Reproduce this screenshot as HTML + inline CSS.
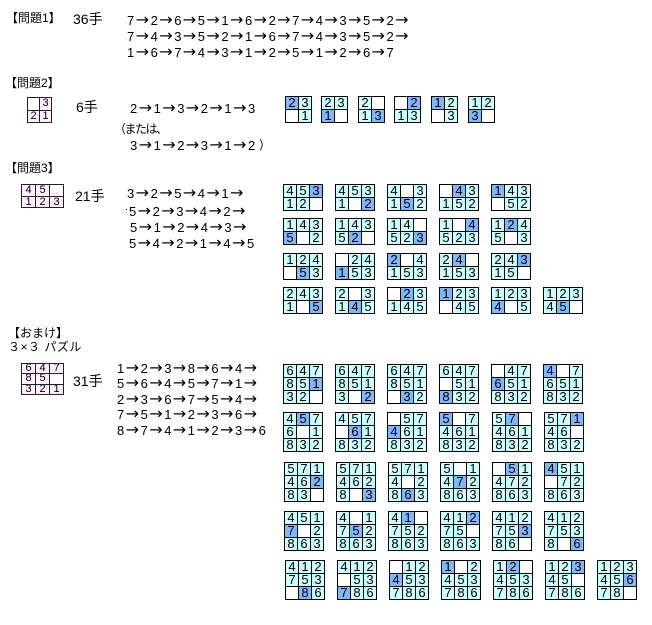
<!DOCTYPE html>
<html><head><meta charset="utf-8">
<style>
html,body{margin:0;padding:0}
body{width:652px;height:625px;position:relative;overflow:hidden;background:#fff;font-family:"Liberation Sans","Noto Sans CJK JP",sans-serif;color:#000}
.t{position:absolute;font-size:12px;line-height:12px;white-space:nowrap}
.k{position:absolute;font-size:14px;line-height:14px;white-space:nowrap}
.q{position:absolute;white-space:nowrap;font-size:13px;line-height:15px;height:15px}
.q i{display:inline-block;width:7px;font-style:normal}
.q b{display:inline-block;width:16.6px;font-weight:normal;font-family:"DejaVu Sans",sans-serif;font-size:16px;line-height:15px;text-align:center}
.g{position:absolute;display:grid;gap:1px;padding:1px;background:#000;box-sizing:border-box}
.g i,.g b,.g u{display:block;font-style:normal;font-weight:normal;text-decoration:none;font-size:13px;line-height:12px;text-align:center;background:#ccffff;overflow:hidden}
.g b{background:#80b8ff}
.g u{background:#fff}
.a{grid-template-columns:repeat(2,12px);grid-template-rows:repeat(2,12px);width:27px;height:27px}
.c{grid-template-columns:repeat(3,12px);grid-template-rows:repeat(2,12px);width:40px;height:27px}
.d{grid-template-columns:repeat(3,12px);grid-template-rows:repeat(3,12px);width:40px;height:40px}
.g.p{background:#222}
.g.p i{background:#ffeeff;font-size:11px}
.p2{grid-template-columns:repeat(2,11px);grid-template-rows:repeat(2,11.5px);width:25px;height:26px}
.p2 i,.p2 u{line-height:11.5px !important}
.p3{grid-template-columns:repeat(3,13px);grid-template-rows:repeat(2,10.5px);width:43px;height:24px}
.p3 i,.p3 u{line-height:10.5px !important}
.p9{grid-template-columns:repeat(3,13px);grid-template-rows:repeat(3,9.4px);width:43px;height:32px}
.p9 i,.p9 u{line-height:9.4px !important}
.kn{letter-spacing:-1.5px}
</style></head><body>

<!-- Problem 1 -->
<div class="t" style="left:6px;top:12px">【問題1】</div>
<div class="k" style="left:73px;top:12px">36手</div>
<div class="q" style="left:127px;top:12px"><i>7</i><b>→</b><i>2</i><b>→</b><i>6</i><b>→</b><i>5</i><b>→</b><i>1</i><b>→</b><i>6</i><b>→</b><i>2</i><b>→</b><i>7</i><b>→</b><i>4</i><b>→</b><i>3</i><b>→</b><i>5</i><b>→</b><i>2</i><b>→</b></div>
<div class="q" style="left:127px;top:28px"><i>7</i><b>→</b><i>4</i><b>→</b><i>3</i><b>→</b><i>5</i><b>→</b><i>2</i><b>→</b><i>1</i><b>→</b><i>6</i><b>→</b><i>7</i><b>→</b><i>4</i><b>→</b><i>3</i><b>→</b><i>5</i><b>→</b><i>2</i><b>→</b></div>
<div class="q" style="left:127px;top:44px"><i>1</i><b>→</b><i>6</i><b>→</b><i>7</i><b>→</b><i>4</i><b>→</b><i>3</i><b>→</b><i>1</i><b>→</b><i>2</i><b>→</b><i>5</i><b>→</b><i>1</i><b>→</b><i>2</i><b>→</b><i>6</i><b>→</b><i>7</i></div>

<!-- Problem 2 -->
<div class="t" style="left:5px;top:77px">【問題2】</div>
<div class="g p p2" style="left:27px;top:97px"><u></u><i>3</i><i>2</i><i>1</i></div>
<div class="k" style="left:76px;top:100px">6手</div>
<div class="q" style="left:130px;top:100px"><i>2</i><b>→</b><i>1</i><b>→</b><i>3</i><b>→</b><i>2</i><b>→</b><i>1</i><b>→</b><i>3</i></div>
<div class="t kn" style="left:114px;top:123px">（または、</div>
<div class="q" style="left:130px;top:137px"><i>3</i><b>→</b><i>1</i><b>→</b><i>2</i><b>→</b><i>3</i><b>→</b><i>1</i><b>→</b><i>2</i></div>
<div class="t" style="left:259px;top:139px">）</div>

<div class="g a" style="left:285px;top:96px"><b>2</b><i>3</i><u></u><i>1</i></div>
<div class="g a" style="left:321px;top:96px"><i>2</i><i>3</i><b>1</b><u></u></div>
<div class="g a" style="left:358px;top:96px"><i>2</i><u></u><i>1</i><b>3</b></div>
<div class="g a" style="left:394px;top:96px"><u></u><b>2</b><i>1</i><i>3</i></div>
<div class="g a" style="left:431px;top:96px"><b>1</b><i>2</i><u></u><i>3</i></div>
<div class="g a" style="left:468px;top:96px"><i>1</i><i>2</i><b>3</b><u></u></div>

<!-- Problem 3 -->
<div class="t" style="left:5px;top:162px">【問題3】</div>
<div class="g p p3" style="left:21px;top:184px"><i>4</i><i>5</i><u></u><i>1</i><i>2</i><i>3</i></div>
<div class="k" style="left:75px;top:189px">21手</div>
<div class="q" style="left:127px;top:185px"><i>3</i><b>→</b><i>2</i><b>→</b><i>5</i><b>→</b><i>4</i><b>→</b><i>1</i><b>→</b></div>
<div style="position:absolute;left:126px;top:209px;width:1px;height:1px;background:#000"></div>
<div class="q" style="left:129px;top:203px"><i>5</i><b>→</b><i>2</i><b>→</b><i>3</i><b>→</b><i>4</i><b>→</b><i>2</i><b>→</b></div>
<div class="q" style="left:130px;top:219px"><i>5</i><b>→</b><i>1</i><b>→</b><i>2</i><b>→</b><i>4</i><b>→</b><i>3</i><b>→</b></div>
<div class="q" style="left:129px;top:235px"><i>5</i><b>→</b><i>4</i><b>→</b><i>2</i><b>→</b><i>1</i><b>→</b><i>4</i><b>→</b><i>5</i></div>

<div class="g c" style="left:283px;top:184px"><i>4</i><i>5</i><b>3</b><i>1</i><i>2</i><u></u></div>
<div class="g c" style="left:335px;top:184px"><i>4</i><i>5</i><i>3</i><i>1</i><u></u><b>2</b></div>
<div class="g c" style="left:387px;top:184px"><i>4</i><u></u><i>3</i><i>1</i><b>5</b><i>2</i></div>
<div class="g c" style="left:439px;top:184px"><u></u><b>4</b><i>3</i><i>1</i><i>5</i><i>2</i></div>
<div class="g c" style="left:491px;top:184px"><b>1</b><i>4</i><i>3</i><u></u><i>5</i><i>2</i></div>

<div class="g c" style="left:283px;top:218px"><i>1</i><i>4</i><i>3</i><b>5</b><u></u><i>2</i></div>
<div class="g c" style="left:335px;top:218px"><i>1</i><i>4</i><i>3</i><i>5</i><b>2</b><u></u></div>
<div class="g c" style="left:387px;top:218px"><i>1</i><i>4</i><u></u><i>5</i><i>2</i><b>3</b></div>
<div class="g c" style="left:439px;top:218px"><i>1</i><u></u><b>4</b><i>5</i><i>2</i><i>3</i></div>
<div class="g c" style="left:491px;top:218px"><i>1</i><b>2</b><i>4</i><i>5</i><u></u><i>3</i></div>

<div class="g c" style="left:283px;top:253px"><i>1</i><i>2</i><i>4</i><u></u><b>5</b><i>3</i></div>
<div class="g c" style="left:335px;top:253px"><u></u><i>2</i><i>4</i><b>1</b><i>5</i><i>3</i></div>
<div class="g c" style="left:387px;top:253px"><b>2</b><u></u><i>4</i><i>1</i><i>5</i><i>3</i></div>
<div class="g c" style="left:439px;top:253px"><i>2</i><b>4</b><u></u><i>1</i><i>5</i><i>3</i></div>
<div class="g c" style="left:491px;top:253px"><i>2</i><i>4</i><b>3</b><i>1</i><i>5</i><u></u></div>

<div class="g c" style="left:283px;top:287px"><i>2</i><i>4</i><i>3</i><i>1</i><u></u><b>5</b></div>
<div class="g c" style="left:335px;top:287px"><i>2</i><u></u><i>3</i><i>1</i><b>4</b><i>5</i></div>
<div class="g c" style="left:387px;top:287px"><u></u><b>2</b><i>3</i><i>1</i><i>4</i><i>5</i></div>
<div class="g c" style="left:439px;top:287px"><b>1</b><i>2</i><i>3</i><u></u><i>4</i><i>5</i></div>
<div class="g c" style="left:491px;top:287px"><i>1</i><i>2</i><i>3</i><b>4</b><u></u><i>5</i></div>
<div class="g c" style="left:543px;top:287px"><i>1</i><i>2</i><i>3</i><i>4</i><b>5</b><u></u></div>

<!-- Omake -->
<div class="t" style="left:8px;top:327px">【おまけ】</div>
<div class="t" style="left:8px;top:341px;letter-spacing:0.5px">３×３ パズル</div>
<div class="g p p9" style="left:21px;top:363px"><i>6</i><i>4</i><i>7</i><i>8</i><i>5</i><u></u><i>3</i><i>2</i><i>1</i></div>
<div class="k" style="left:73px;top:374px">31手</div>
<div class="q" style="left:117px;top:360px"><i>1</i><b>→</b><i>2</i><b>→</b><i>3</i><b>→</b><i>8</i><b>→</b><i>6</i><b>→</b><i>4</i><b>→</b></div>
<div class="q" style="left:117px;top:375px"><i>5</i><b>→</b><i>6</i><b>→</b><i>4</i><b>→</b><i>5</i><b>→</b><i>7</i><b>→</b><i>1</i><b>→</b></div>
<div class="q" style="left:117px;top:391px"><i>2</i><b>→</b><i>3</i><b>→</b><i>6</i><b>→</b><i>7</i><b>→</b><i>5</i><b>→</b><i>4</i><b>→</b></div>
<div class="q" style="left:117px;top:406px"><i>7</i><b>→</b><i>5</i><b>→</b><i>1</i><b>→</b><i>2</i><b>→</b><i>3</i><b>→</b><i>6</i><b>→</b></div>
<div class="q" style="left:117px;top:422px"><i>8</i><b>→</b><i>7</i><b>→</b><i>4</i><b>→</b><i>1</i><b>→</b><i>2</i><b>→</b><i>3</i><b>→</b><i>6</i></div>

<!-- 3x3 row 1 -->
<div class="g d" style="left:283px;top:364px"><i>6</i><i>4</i><i>7</i><i>8</i><i>5</i><b>1</b><i>3</i><i>2</i><u></u></div>
<div class="g d" style="left:335px;top:364px"><i>6</i><i>4</i><i>7</i><i>8</i><i>5</i><i>1</i><i>3</i><u></u><b>2</b></div>
<div class="g d" style="left:387px;top:364px"><i>6</i><i>4</i><i>7</i><i>8</i><i>5</i><i>1</i><u></u><b>3</b><i>2</i></div>
<div class="g d" style="left:439px;top:364px"><i>6</i><i>4</i><i>7</i><u></u><i>5</i><i>1</i><b>8</b><i>3</i><i>2</i></div>
<div class="g d" style="left:491px;top:364px"><u></u><i>4</i><i>7</i><b>6</b><i>5</i><i>1</i><i>8</i><i>3</i><i>2</i></div>
<div class="g d" style="left:543px;top:364px"><b>4</b><u></u><i>7</i><i>6</i><i>5</i><i>1</i><i>8</i><i>3</i><i>2</i></div>

<!-- 3x3 row 2 -->
<div class="g d" style="left:283px;top:412px"><i>4</i><b>5</b><i>7</i><i>6</i><u></u><i>1</i><i>8</i><i>3</i><i>2</i></div>
<div class="g d" style="left:335px;top:412px"><i>4</i><i>5</i><i>7</i><u></u><b>6</b><i>1</i><i>8</i><i>3</i><i>2</i></div>
<div class="g d" style="left:387px;top:412px"><u></u><i>5</i><i>7</i><b>4</b><i>6</i><i>1</i><i>8</i><i>3</i><i>2</i></div>
<div class="g d" style="left:439px;top:412px"><b>5</b><u></u><i>7</i><i>4</i><i>6</i><i>1</i><i>8</i><i>3</i><i>2</i></div>
<div class="g d" style="left:492px;top:412px"><i>5</i><b>7</b><u></u><i>4</i><i>6</i><i>1</i><i>8</i><i>3</i><i>2</i></div>
<div class="g d" style="left:544px;top:412px"><i>5</i><i>7</i><b>1</b><i>4</i><i>6</i><u></u><i>8</i><i>3</i><i>2</i></div>

<!-- 3x3 row 3 -->
<div class="g d" style="left:284px;top:462px"><i>5</i><i>7</i><i>1</i><i>4</i><i>6</i><b>2</b><i>8</i><i>3</i><u></u></div>
<div class="g d" style="left:336px;top:462px"><i>5</i><i>7</i><i>1</i><i>4</i><i>6</i><i>2</i><i>8</i><u></u><b>3</b></div>
<div class="g d" style="left:388px;top:462px"><i>5</i><i>7</i><i>1</i><i>4</i><u></u><i>2</i><i>8</i><b>6</b><i>3</i></div>
<div class="g d" style="left:440px;top:462px"><i>5</i><u></u><i>1</i><i>4</i><b>7</b><i>2</i><i>8</i><i>6</i><i>3</i></div>
<div class="g d" style="left:492px;top:462px"><u></u><b>5</b><i>1</i><i>4</i><i>7</i><i>2</i><i>8</i><i>6</i><i>3</i></div>
<div class="g d" style="left:544px;top:462px"><b>4</b><i>5</i><i>1</i><u></u><i>7</i><i>2</i><i>8</i><i>6</i><i>3</i></div>

<!-- 3x3 row 4 -->
<div class="g d" style="left:284px;top:511px"><i>4</i><i>5</i><i>1</i><b>7</b><u></u><i>2</i><i>8</i><i>6</i><i>3</i></div>
<div class="g d" style="left:336px;top:511px"><i>4</i><u></u><i>1</i><i>7</i><b>5</b><i>2</i><i>8</i><i>6</i><i>3</i></div>
<div class="g d" style="left:388px;top:511px"><i>4</i><b>1</b><u></u><i>7</i><i>5</i><i>2</i><i>8</i><i>6</i><i>3</i></div>
<div class="g d" style="left:440px;top:511px"><i>4</i><i>1</i><b>2</b><i>7</i><i>5</i><u></u><i>8</i><i>6</i><i>3</i></div>
<div class="g d" style="left:492px;top:511px"><i>4</i><i>1</i><i>2</i><i>7</i><i>5</i><b>3</b><i>8</i><i>6</i><u></u></div>
<div class="g d" style="left:544px;top:511px"><i>4</i><i>1</i><i>2</i><i>7</i><i>5</i><i>3</i><i>8</i><u></u><b>6</b></div>

<!-- 3x3 row 5 -->
<div class="g d" style="left:285px;top:560px"><i>4</i><i>1</i><i>2</i><i>7</i><i>5</i><i>3</i><u></u><b>8</b><i>6</i></div>
<div class="g d" style="left:337px;top:560px"><i>4</i><i>1</i><i>2</i><u></u><i>5</i><i>3</i><b>7</b><i>8</i><i>6</i></div>
<div class="g d" style="left:389px;top:560px"><u></u><i>1</i><i>2</i><b>4</b><i>5</i><i>3</i><i>7</i><i>8</i><i>6</i></div>
<div class="g d" style="left:441px;top:560px"><b>1</b><u></u><i>2</i><i>4</i><i>5</i><i>3</i><i>7</i><i>8</i><i>6</i></div>
<div class="g d" style="left:493px;top:560px"><i>1</i><b>2</b><u></u><i>4</i><i>5</i><i>3</i><i>7</i><i>8</i><i>6</i></div>
<div class="g d" style="left:545px;top:560px"><i>1</i><i>2</i><b>3</b><i>4</i><i>5</i><u></u><i>7</i><i>8</i><i>6</i></div>
<div class="g d" style="left:597px;top:560px"><i>1</i><i>2</i><i>3</i><i>4</i><i>5</i><b>6</b><i>7</i><i>8</i><u></u></div>

</body></html>
